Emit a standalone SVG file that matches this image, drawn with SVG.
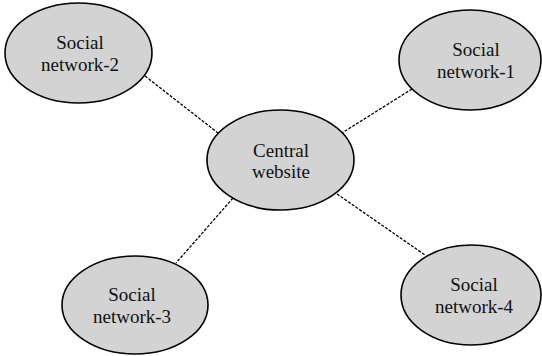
<svg xmlns="http://www.w3.org/2000/svg" width="542" height="356" viewBox="0 0 542 356">
<style>
.node ellipse{fill:#d3d3d3;stroke:#000;stroke-width:1.6}
.node text{font-family:"Liberation Serif","Times New Roman",serif;font-size:19px;fill:#111;text-anchor:middle}
.conn line{stroke:#000;stroke-width:1.3;stroke-dasharray:3 1.5}
</style>
<rect width="542" height="356" fill="#fff"/>
<g id="connectors" class="conn">
<line x1="145" y1="76" x2="218" y2="133"/>
<line x1="412" y1="89" x2="342" y2="133"/>
<line x1="233" y1="198" x2="176" y2="263"/>
<line x1="337" y1="194" x2="425" y2="255"/>
</g>
<g id="central" class="node">
<ellipse cx="280.5" cy="160" rx="73.5" ry="50"/>
<text x="281" y="157">Central</text>
<text x="281" y="178">website</text>
</g>
<g id="sn2" class="node">
<ellipse cx="78.5" cy="53" rx="73.5" ry="50"/>
<text x="80" y="49">Social</text>
<text x="80" y="71">network-2</text>
</g>
<g id="sn1" class="node">
<ellipse cx="470" cy="60" rx="71" ry="50"/>
<text x="476" y="56">Social</text>
<text x="476" y="78">network-1</text>
</g>
<g id="sn3" class="node">
<ellipse cx="135" cy="305" rx="73" ry="49"/>
<text x="132" y="301">Social</text>
<text x="132" y="323">network-3</text>
</g>
<g id="sn4" class="node">
<ellipse cx="471" cy="295" rx="70" ry="50"/>
<text x="474" y="291">Social</text>
<text x="474" y="313">network-4</text>
</g>
</svg>
